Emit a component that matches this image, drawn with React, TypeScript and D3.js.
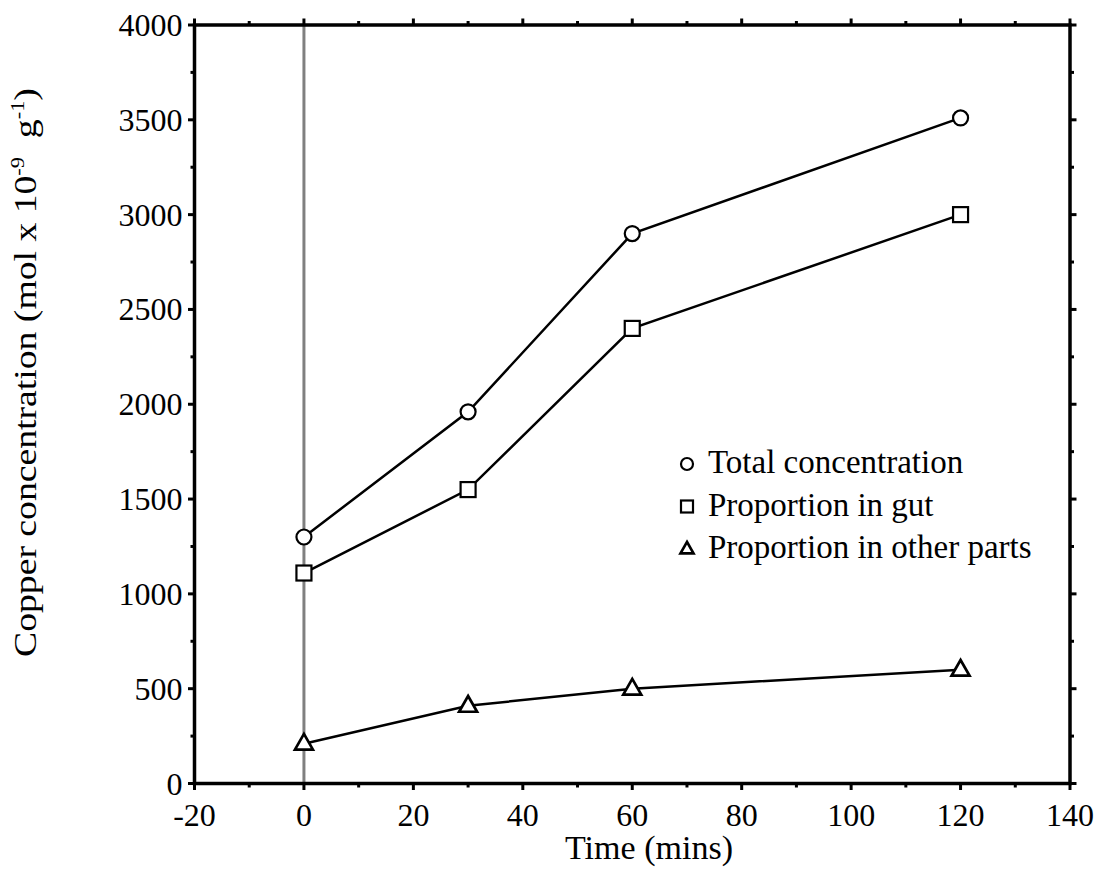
import React, { useLayoutEffect, useRef, useState } from "react";
import * as d3 from "d3";

const times = [0, 30, 60, 120];
const totalConc = [1300, 1960, 2900, 3510];
const gutConc = [1110, 1550, 2400, 3000];
const otherConc = [210, 410, 500, 600];
const xTicks = [-20, 0, 20, 40, 60, 80, 100, 120, 140];
const yTicks = [0, 500, 1000, 1500, 2000, 2500, 3000, 3500, 4000];
const legendLabels = ["Total concentration", "Proportion in gut", "Proportion in other parts"];

const W = 1095, H = 869;
const L = 194.5, R = 1070, T = 25, B = 783.5;
const FONT = "'Liberation Serif', 'DejaVu Serif', serif";

function Marker({ type, x, y, s, sw }: { type: string; x: number; y: number; s: number; sw: number }) {
  if (type === "circle") return <circle cx={x} cy={y} r={s} fill="white" stroke="black" strokeWidth={sw} />;
  if (type === "square") return <rect x={x - s} y={y - s} width={2 * s} height={2 * s} fill="white" stroke="black" strokeWidth={sw} />;
  const h = s * 1.75;
  return <path d={`M${x},${y - h * 0.62}L${x + s},${y + h * 0.38}L${x - s},${y + h * 0.38}Z`} fill="white" stroke="black" strokeWidth={sw + 0.5} strokeLinejoin="miter" />;
}

export default function App() {
  const x = d3.scaleLinear().domain([-20, 140]).range([L, R]);
  const y = d3.scaleLinear().domain([0, 4000]).range([B, T]);
  const line = d3.line<[number, number]>().x(d => x(d[0])).y(d => y(d[1]));
  const series = [
    { vals: totalConc, type: "circle", s: 7.5 },
    { vals: gutConc, type: "square", s: 7.5 },
    { vals: otherConc, type: "triangle", s: 9 },
  ];
  const xMinor = d3.range(-10, 140, 20);
  const yMinor = d3.range(250, 4000, 500);

  const labRef = useRef<SVGTextElement>(null);
  const [k, setK] = useState(1);
  useLayoutEffect(() => {
    if (labRef.current) {
      const w = labRef.current.getBBox().width;
      if (w > 0) setK(569 / w);
    }
  }, []);

  return (
    <svg width={W} height={H} style={{ display: "block", position: "absolute", left: 0, top: 0 }}>
      <rect width={W} height={H} fill="white" />
      <line x1={x(0)} x2={x(0)} y1={T} y2={B} stroke="#808080" strokeWidth={3} />
      {series.map((s, i) => (
        <g key={i}>
          <path d={line(times.map((t, j) => [t, s.vals[j]]) as [number, number][]) || ""} fill="none" stroke="black" strokeWidth={2.5} />
          {times.map((t, j) => <Marker key={j} type={s.type} x={x(t)} y={y(s.vals[j])} s={s.s} sw={2.2} />)}
        </g>
      ))}
      <rect x={L} y={T} width={R - L} height={B - T} fill="none" stroke="black" strokeWidth={3.5} />
      {xTicks.map(t => (
        <g key={"x" + t}>
          <line x1={x(t)} x2={x(t)} y1={B} y2={B + 6.5} stroke="black" strokeWidth={3} />
          <line x1={x(t)} x2={x(t)} y1={T} y2={T - 6.5} stroke="black" strokeWidth={3} />
          <text x={x(t)} y={826} textAnchor="middle" fontFamily={FONT} fontSize={32}>{t}</text>
        </g>
      ))}
      {xMinor.map(t => (
        <g key={"xm" + t}>
          <line x1={x(t)} x2={x(t)} y1={B} y2={B + 4} stroke="black" strokeWidth={3} />
          <line x1={x(t)} x2={x(t)} y1={T} y2={T - 4} stroke="black" strokeWidth={3} />
        </g>
      ))}
      {yTicks.map(t => (
        <g key={"y" + t}>
          <line x1={L} x2={L - 6.5} y1={y(t)} y2={y(t)} stroke="black" strokeWidth={3} />
          <line x1={R} x2={R + 6.5} y1={y(t)} y2={y(t)} stroke="black" strokeWidth={3} />
          <text x={L - 12} y={y(t) + 11} textAnchor="end" fontFamily={FONT} fontSize={32}>{t}</text>
        </g>
      ))}
      {yMinor.map(t => (
        <g key={"ym" + t}>
          <line x1={L} x2={L - 4} y1={y(t)} y2={y(t)} stroke="black" strokeWidth={3} />
          <line x1={R} x2={R + 4} y1={y(t)} y2={y(t)} stroke="black" strokeWidth={3} />
        </g>
      ))}
      <text x={565} y={859} fontFamily={FONT} fontSize={34} textLength={168} lengthAdjust="spacingAndGlyphs">Time (mins)</text>
      <g transform={`translate(36, 657) rotate(-90) scale(${k}, 1)`}>
        <text ref={labRef} x={0} y={0} fontFamily={FONT} fontSize={32}>
          Copper concentration (mol x 10<tspan dy={-12} fontSize={19}>-9</tspan><tspan dy={12}>{"\u00a0\u00a0"}g</tspan><tspan dy={-12} fontSize={19}>-1</tspan><tspan dy={12}>)</tspan>
        </text>
      </g>
      {legendLabels.map((lab, i) => {
        const ly = 464 + i * 42.5;
        const type = series[i].type;
        return (
          <g key={lab}>
            <Marker type={type} x={687} y={ly} s={type === "triangle" ? 6.5 : 6} sw={2.2} />
            <text x={708} y={ly + 9} fontFamily={FONT} fontSize={33}>{lab}</text>
          </g>
        );
      })}
    </svg>
  );
}
